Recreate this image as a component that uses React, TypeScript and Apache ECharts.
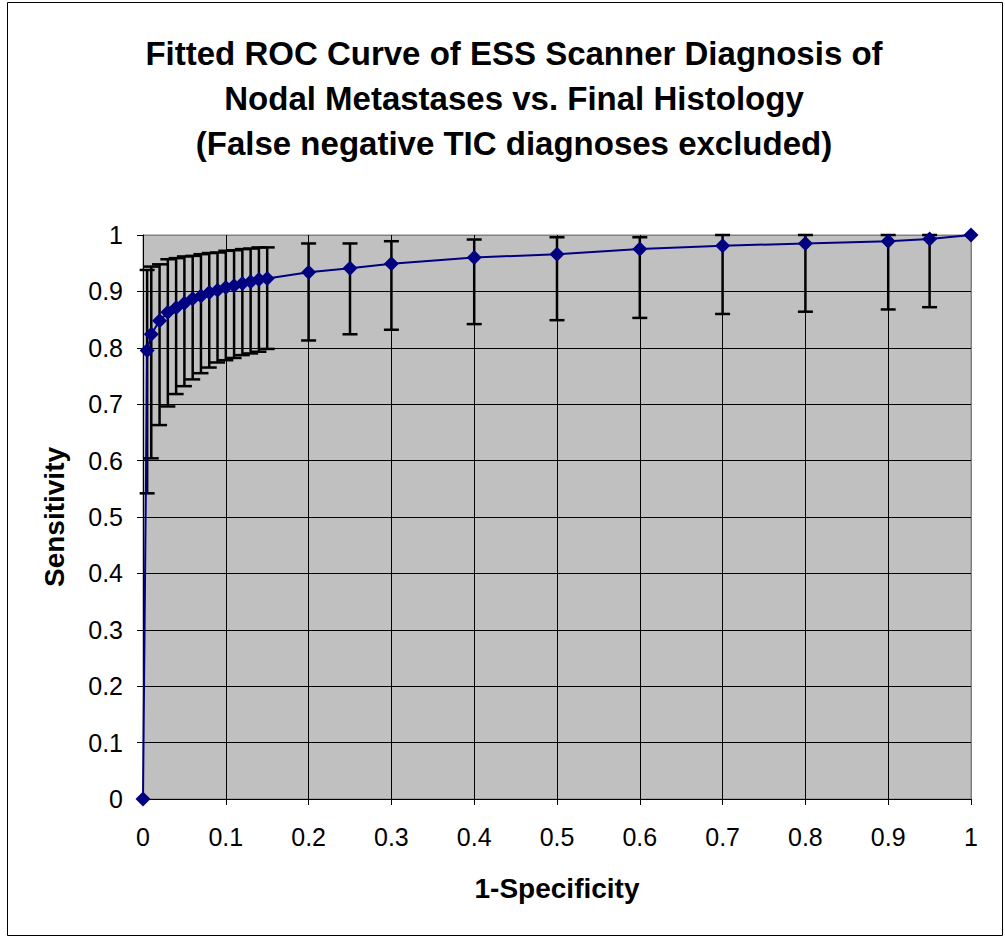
import React, { useEffect, useRef } from "react";
import * as echarts from "echarts";

const fpr = [0, 0.005, 0.01, 0.02, 0.03, 0.04, 0.05, 0.06, 0.07, 0.08, 0.09, 0.1, 0.11, 0.12, 0.13, 0.14, 0.15, 0.2, 0.25, 0.3, 0.4, 0.5, 0.6, 0.7, 0.8, 0.9, 0.95, 1];
const sensitivity = [0, 0.795, 0.824, 0.848, 0.863, 0.871, 0.879, 0.887, 0.892, 0.898, 0.902, 0.907, 0.91, 0.914, 0.917, 0.921, 0.923, 0.934, 0.941, 0.949, 0.96, 0.966, 0.975, 0.981, 0.985, 0.989, 0.993, 1.0];
const upperCI = [null, 0.938, 0.944, 0.948, 0.957, 0.959, 0.962, 0.963, 0.966, 0.968, 0.969, 0.972, 0.973, 0.975, 0.976, 0.978, 0.978, 0.985, 0.985, 0.989, 0.992, 0.996, 0.996, 1.0, 1.0, 1.0, 1.0, null];
const lowerCI = [null, 0.542, 0.604, 0.663, 0.696, 0.718, 0.732, 0.744, 0.755, 0.765, 0.774, 0.778, 0.782, 0.787, 0.79, 0.793, 0.798, 0.813, 0.824, 0.832, 0.842, 0.849, 0.853, 0.86, 0.864, 0.868, 0.872, null];
const tickValues = [0, 0.1, 0.2, 0.3, 0.4, 0.5, 0.6, 0.7, 0.8, 0.9, 1];

const titleLines = [
  "Fitted ROC Curve of ESS Scanner Diagnosis of",
  "Nodal Metastases vs. Final Histology",
  "(False negative TIC diagnoses excluded)",
];

export default function App() {
  const ref = useRef<HTMLDivElement>(null);
  useEffect(() => {
    document.body.style.margin = "0";
    if (!ref.current) return;
    const chart = echarts.init(ref.current, null, { renderer: "svg" });
    const font = "'Liberation Sans', Arial, sans-serif";
    const splitColors = tickValues.map((v, i) => (i === tickValues.length - 1 ? "#808080" : "#000000"));
    const curve = fpr.map((x, i) => [x, sensitivity[i]]);
    const bars = fpr
      .map((x, i) => [x, lowerCI[i], upperCI[i]])
      .filter((d) => d[1] !== null && d[2] !== null);

    const axisCommon = {
      type: "value" as const,
      min: 0,
      max: 1,
      interval: 0.1,
      axisLine: { show: true, lineStyle: { color: "#000", width: 1 } },
      axisTick: { show: true, inside: false, length: 6, lineStyle: { color: "#000" } },
      axisLabel: {
        color: "#000",
        fontFamily: font,
        fontSize: 25,
        formatter: (v: number) => String(Math.round(v * 10) / 10),
      },
      splitLine: { show: true, lineStyle: { color: splitColors, width: 1 } },
    };

    chart.setOption({
      animation: false,
      backgroundColor: "#ffffff",
      title: {
        text: titleLines.join("\n"),
        left: 509,
        top: 26,
        textAlign: "center",
        textStyle: {
          fontFamily: font,
          fontWeight: "bold",
          fontSize: 33,
          lineHeight: 45,
          color: "#000",
        },
      },
      grid: {
        left: 143,
        right: 34,
        top: 235,
        bottom: 139,
        show: true,
        backgroundColor: "#C0C0C0",
        borderColor: "#808080",
        borderWidth: 1,
      },
      xAxis: {
        ...axisCommon,
        axisLabel: { ...axisCommon.axisLabel, margin: 25 },
        name: "1-Specificity",
        nameLocation: "middle",
        nameGap: 75,
        nameTextStyle: { fontFamily: font, fontWeight: "bold", fontSize: 28, color: "#000" },
      },
      yAxis: {
        ...axisCommon,
        axisLabel: { ...axisCommon.axisLabel, margin: 20 },
        name: "Sensitivity",
        nameLocation: "middle",
        nameGap: 75,
        nameRotate: 90,
        nameTextStyle: { fontFamily: font, fontWeight: "bold", fontSize: 28, color: "#000" },
      },
      graphic: [
        {
          type: "rect",
          shape: { x: 7.5, y: 2.5, width: 995, height: 933 },
          style: { fill: "none", stroke: "#000", lineWidth: 1 },
          silent: true,
          z: 100,
        },
      ],
      series: [
        {
          type: "custom",
          z: 2,
          data: bars,
          encode: { x: 0, y: [1, 2] },
          clip: false,
          renderItem: (params: any, api: any) => {
            const x = api.value(0);
            const lo = api.coord([x, api.value(1)]);
            const hi = api.coord([x, api.value(2)]);
            const half = 7.5;
            const style = { stroke: "#000", lineWidth: 2.5 };
            return {
              type: "group",
              children: [
                { type: "line", shape: { x1: lo[0], y1: lo[1], x2: hi[0], y2: hi[1] }, style },
                { type: "line", shape: { x1: lo[0] - half, y1: lo[1], x2: lo[0] + half, y2: lo[1] }, style },
                { type: "line", shape: { x1: hi[0] - half, y1: hi[1], x2: hi[0] + half, y2: hi[1] }, style },
              ],
            };
          },
        },
        {
          type: "line",
          z: 5,
          data: curve,
          symbol: "diamond",
          symbolSize: 15,
          lineStyle: { color: "#000080", width: 2 },
          itemStyle: { color: "#000080" },
          clip: false,
        },
      ],
    });
    return () => chart.dispose();
  }, []);
  return <div ref={ref} style={{ width: 1005, height: 938 }} />;
}
